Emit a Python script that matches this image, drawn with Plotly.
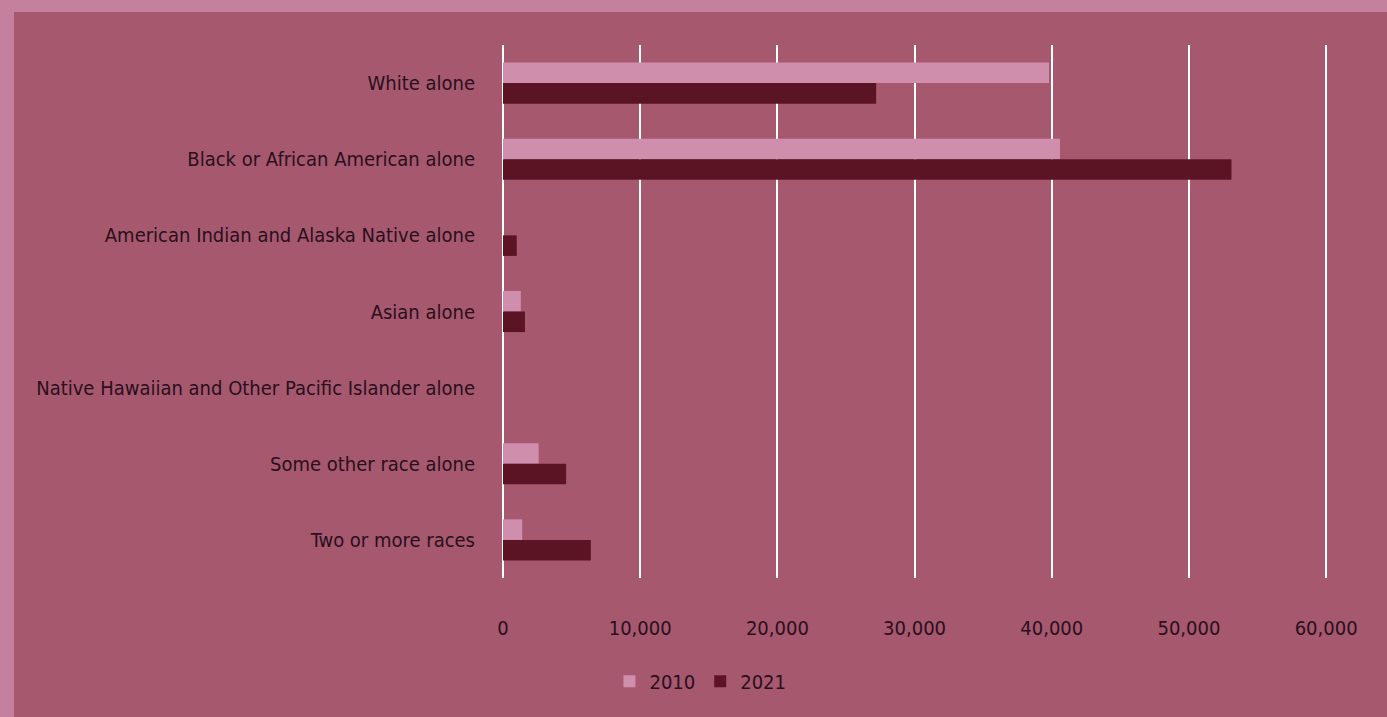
import plotly.graph_objects as go

categories = [
    "White alone",
    "Black or African American alone",
    "American Indian and Alaska Native alone",
    "Asian alone",
    "Native Hawaiian and Other Pacific Islander alone",
    "Some other race alone",
    "Two or more races",
]
values_2010 = [39800, 40600, 0, 1300, 0, 2600, 1400]
values_2021 = [27200, 53100, 1000, 1600, 0, 4600, 6400]
tick_vals = [0, 10000, 20000, 30000, 40000, 50000, 60000]
tick_text = ["0", "10,000", "20,000", "30,000", "40,000", "50,000", "60,000"]

FONT = "Liberation Sans Narrow, DejaVu Sans Condensed, Roboto Condensed, sans-serif"
TEXT = "#2a0f1c"

fig = go.Figure()
fig.add_trace(go.Bar(y=categories, x=values_2010, name="2010", orientation="h",
                     marker=dict(color="#d08ead", line=dict(width=0))))
fig.add_trace(go.Bar(y=categories, x=values_2021, name="2021", orientation="h",
                     marker=dict(color="#5a1424", line=dict(width=0))))

fig.update_layout(
    width=1387, height=717,
    paper_bgcolor="#a6586f",
    plot_bgcolor="#a6586f",
    barmode="group",
    bargap=0.46,
    bargroupgap=0.0,
    margin=dict(l=503, r=54, t=45, b=139),
    font=dict(family=FONT, size=20, color=TEXT),
    legend=dict(orientation="h", x=0.505, y=0.05, xref="container", yref="container",
                xanchor="center", yanchor="middle", font=dict(size=20, color=TEXT),
                bgcolor="rgba(0,0,0,0)", itemwidth=30, traceorder="normal"),
    xaxis=dict(range=[0, 60500], tickvals=tick_vals, ticktext=tick_text,
               showgrid=True, gridcolor="#ffffff", gridwidth=1.5,
               zeroline=True, zerolinecolor="#ffffff", zerolinewidth=1.5,
               showline=False, ticks="", ticklabelstandoff=36,
               tickfont=dict(size=20, color=TEXT)),
    yaxis=dict(autorange="reversed", showgrid=False, ticks="",
               ticklabelstandoff=27, tickfont=dict(size=20, color=TEXT)),
    shapes=[
        dict(type="rect", xref="paper", yref="paper", x0=-503/830, x1=(1387-503)/830,
             y0=1 + 33/533, y1=1 + 45/533, fillcolor="#c5809e", line=dict(width=0), layer="below"),
        dict(type="rect", xref="paper", yref="paper", x0=-503/830, x1=-489/830,
             y0=-139/533, y1=1 + 45/533, fillcolor="#c5809e", line=dict(width=0), layer="below"),
    ],
)

fig.write_html(
    "out.html",
    config={"displayModeBar": False},
    post_script="document.body.style.margin='0';document.body.style.overflow='hidden';",
)
